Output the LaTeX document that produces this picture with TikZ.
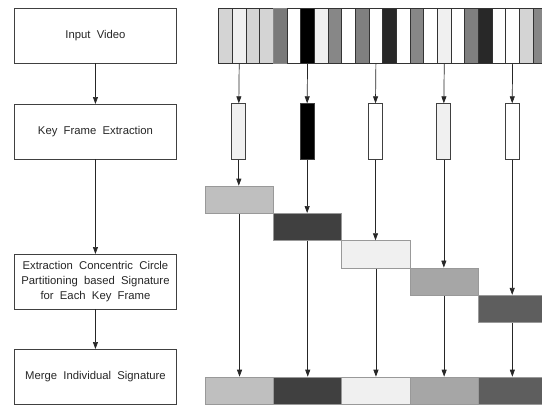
\documentclass[tikz,border=0pt]{standalone}
\usepackage{fontspec}
\setmainfont{Liberation Sans}
\usetikzlibrary{arrows.meta}
\tikzset{
  flow/.style={draw=black!75, line width=0.9pt, minimum width=162pt, minimum height=54.5pt,
    inner sep=0pt, align=center, text=black!85, font=\fontsize{11.3}{15}\selectfont, anchor=north west},
  cell/.style={line width=0.8pt, minimum width=13.67pt, minimum height=55pt, inner sep=0pt, anchor=north west},
  keyf/.style={draw=black!75, line width=0.8pt, minimum width=14pt, minimum height=55.7pt, inner sep=0pt, anchor=north},
  sigb/.style={draw=black!40, line width=0.9pt, minimum width=68.2pt, minimum height=27.4pt, inner sep=0pt, anchor=north west},
  arr/.style={draw=black!85, line width=0.7pt, -{Triangle[width=5pt,length=7pt]}},
  plain/.style={draw=black!55, line width=0.9pt},
}
\begin{document}
\begin{tikzpicture}[x=1pt,y=-1pt]
\useasboundingbox (0,0) rectangle (542,405);
\clip (0,0) rectangle (542,405);
\fill[white] (0,0) rectangle (542,405);
% left flow
\node[flow] (b1) at (14,8) {Input\ \ Video};
\node[flow] (b2) at (14,104) {Key\ \ Frame\ \ Extraction};
\node[flow] (b3) at (14,254) {Extraction\ \ Concentric\ \ Circle\\Partitioning\ \ based\ \ Signature\\for\ \ Each\ \ Key\ \ Frame};
\node[flow] (b4) at (14,349) {Merge\ \ Individual\ \ Signature};
\draw[arr] (b1.south) -- (b2.north);
\draw[arr] (b2.south) -- (b3.north);
\draw[arr] (b3.south) -- (b4.north);
% film strip
\foreach \c/\b [count=\i from 0] in {D4D4D4/333333,F0F0F0/333333,D4D4D4/333333,D4D4D4/333333,7A7A7A/8A8A8A,FFFFFF/333333,000000/333333,F0F0F0/333333,878787/333333,FFFFFF/333333,7F7F7F/333333,FFFFFF/333333,282828/333333,FFFFFF/333333,878787/333333,FFFFFF/333333,F0F0F0/333333,FFFFFF/333333,7F7F7F/333333,282828/333333,FFFFFF/333333,FFFFFF/333333,D4D4D4/333333,878787/333333}{
  \definecolor{cfill}{HTML}{\c}
  \definecolor{cdraw}{HTML}{\b}
  \node[cell, fill=cfill, draw=cdraw] (c\i) at (218.3+\i*13.67,8) {};
}
% key frames
\foreach \k/\n/\c in {1/1/F0F0F0,2/6/000000,3/11/FFFFFF,4/16/F0F0F0,5/21/FFFFFF}{
  \definecolor{kfill}{HTML}{\c}
  \node[keyf, fill=kfill] (kf\k) at (218.3+\n*13.67+6.835,103.3) {};
}
% signature boxes (staircase) and merged row
\foreach \k/\c in {1/BFBFBF,2/404040,3/F0F0F0,4/A6A6A6,5/5E5E5E}{
  \definecolor{sfill}{HTML}{\c}
  \node[sigb, fill=sfill] (s\k) at (205+\k*68.2-68.2,185.7+\k*27.3-27.3) {};
  \node[sigb, fill=sfill] (m\k) at (205+\k*68.2-68.2,376.7) {};
}
% connectors
\foreach \k/\n in {1/1,2/6,3/11,4/16,5/21}{
  \draw[arr] (c\n.south) -- (kf\k.north);
  \draw[arr] (kf\k.south) -- (kf\k.south |- s\k.north);
  \draw[arr] (s\k.south) -- (m\k.north);
}
\end{tikzpicture}
\end{document}
